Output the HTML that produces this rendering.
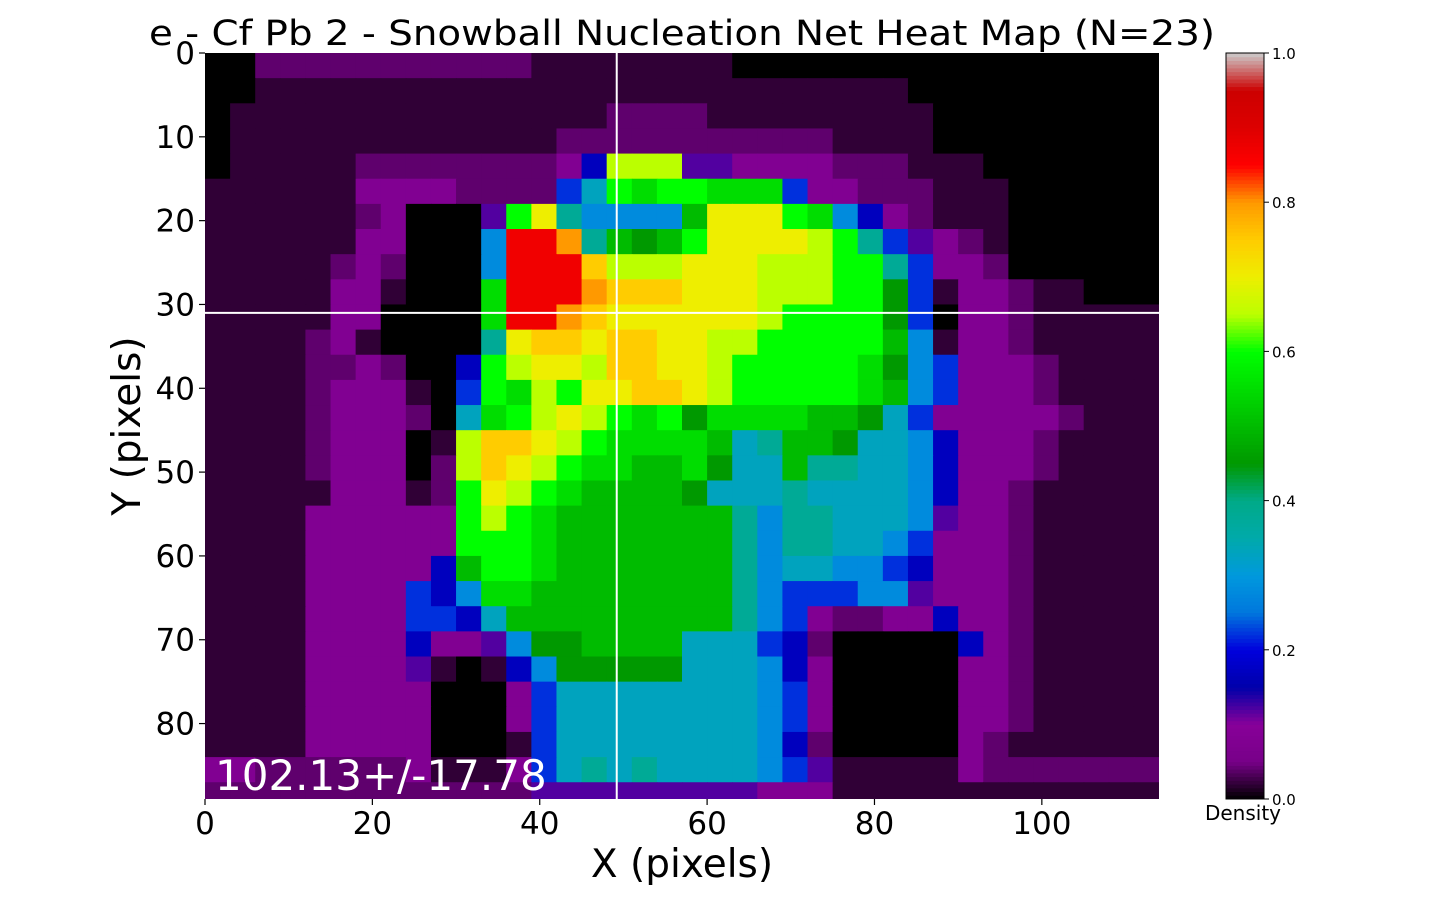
<!DOCTYPE html>
<html><head><meta charset="utf-8"><style>
html,body{margin:0;padding:0;background:#fff;}
svg{display:block;font-family:"DejaVu Sans","Liberation Sans",sans-serif;}
</style></head><body>
<svg id="chart" width="1437" height="900" viewBox="0 0 1437 900" xmlns="http://www.w3.org/2000/svg">
<text x="682" y="45" font-size="35" text-anchor="middle" textLength="1066" lengthAdjust="spacingAndGlyphs">e - Cf Pb 2 - Snowball Nucleation Net Heat Map (N=23)</text>
<g id="cells"></g>
<g id="overlay"></g>
<g id="axes"></g>
<g id="cbar"></g>
</svg>
<script>
// grid: 38 columns x 30 rows, each cell = 3x3 data pixels; rows are run-length encoded "code*count"
const blockSize = 3;
const codeChars = "0123456789ABCDEFGHIJ";
const codeValues = [0,0.02,0.04,0.08,0.12,0.17,0.22,0.28,0.33,0.38,0.45,0.5,0.55,0.6,0.65,0.7,0.75,0.8,0.87,0.92];
const gridRows = [
"0*2 2*11 1*8 0*17",
"0*2 1*26 0*10",
"0*1 1*15 2*4 1*9 0*9",
"0*1 1*13 2*11 1*4 0*9",
"0*1 1*5 2*8 3*1 5*1 E*3 4*2 3*4 2*3 1*3 0*7",
"1*6 3*4 2*4 6*1 8*1 D*1 C*1 D*1 D*1 C*3 6*1 3*2 2*3 1*3 0*6",
"1*6 2*1 3*1 0*3 4*1 D*1 F*1 9*1 7*1 7*3 B*1 F*3 D*1 C*1 7*1 5*1 3*1 2*1 1*3 0*6",
"1*6 3*2 0*3 7*1 I*2 H*1 9*1 B*1 A*1 B*1 D*1 F*4 E*1 D*1 9*1 6*1 4*1 3*1 2*1 1*1 0*6",
"1*5 2*1 3*1 2*1 0*3 7*1 I*3 G*1 E*3 F*3 E*3 D*2 9*1 6*1 3*2 2*1 0*6",
"1*5 3*2 1*1 0*3 C*1 I*3 H*1 G*3 F*3 E*3 D*2 A*1 6*1 1*1 3*2 2*1 1*2 0*3",
"1*5 3*2 0*4 C*1 I*2 H*1 G*1 F*6 E*1 D*4 A*1 6*1 0*1 3*2 2*1 1*5",
"1*4 2*1 3*1 1*1 0*4 9*1 F*1 G*2 F*1 G*2 F*2 E*2 D*5 B*1 7*1 1*1 3*2 2*1 1*5",
"1*4 2*2 3*1 2*1 0*2 5*1 D*1 E*1 F*2 E*1 G*2 F*2 E*1 D*5 C*1 A*1 7*1 6*1 3*3 2*1 1*4",
"1*4 2*1 3*3 1*1 0*1 6*1 D*1 C*1 E*1 D*1 F*2 G*2 F*1 E*1 D*5 C*1 B*1 7*1 6*1 3*3 2*1 1*4",
"1*4 2*1 3*3 2*1 0*1 8*1 C*1 D*1 E*1 F*1 E*1 D*1 C*1 D*1 A*1 C*4 B*2 A*1 8*1 6*1 3*5 2*1 1*3",
"1*4 2*1 3*3 0*1 1*1 E*1 G*2 F*1 E*1 D*1 C*4 B*1 8*1 9*1 B*2 A*1 8*2 7*1 5*1 3*3 2*1 1*4",
"1*4 2*1 3*3 0*1 2*1 E*1 G*1 F*1 E*1 D*1 C*2 B*2 C*1 A*1 8*2 B*1 9*2 8*2 7*1 5*1 3*3 2*1 1*4",
"1*5 3*3 1*1 2*1 D*1 F*1 E*1 D*1 C*1 B*4 A*1 8*3 9*1 8*4 7*1 5*1 3*2 2*1 1*5",
"1*4 3*6 D*1 E*1 D*1 C*1 B*7 9*1 7*1 9*2 8*3 7*1 4*1 3*2 2*1 1*5",
"1*4 3*6 D*3 C*1 B*7 9*1 7*1 9*2 8*2 7*1 6*1 3*3 2*1 1*5",
"1*4 3*5 5*1 B*1 D*2 C*1 B*7 9*1 7*1 8*2 7*2 6*1 5*1 3*3 2*1 1*5",
"1*4 3*4 6*1 5*1 7*1 C*2 B*8 9*1 7*1 6*3 7*2 4*1 3*3 2*1 1*5",
"1*4 3*4 6*2 5*1 8*1 B*9 9*1 7*1 6*1 3*1 2*2 3*2 5*1 3*2 2*1 1*5",
"1*4 3*4 5*1 3*2 4*1 7*1 A*2 B*4 8*3 6*1 5*1 2*1 0*5 5*1 3*1 2*1 1*5",
"1*4 3*4 4*1 1*1 0*1 1*1 5*1 7*1 A*5 8*3 7*1 5*1 3*1 0*5 3*2 2*1 1*5",
"1*4 3*5 0*3 3*1 6*1 8*8 7*1 6*1 3*1 0*5 3*2 2*1 1*5",
"1*4 3*5 0*3 3*1 6*1 8*8 7*1 6*1 3*1 0*5 3*2 2*1 1*5",
"1*4 3*5 0*3 1*1 6*1 8*8 7*1 5*1 2*1 0*5 3*1 2*1 1*6",
"3*2 2*6 3*1 1*3 3*1 6*1 8*1 9*1 8*1 9*1 8*4 7*1 6*1 4*1 1*5 3*1 2*7",
"2*13 4*9 3*3 1*13"
];
const xTicks=[0,20,40,60,80,100];
const yTicks=[0,10,20,30,40,50,60,70,80];
const cbTicks=[0,0.2,0.4,0.6,0.8,1.0];
const crossX=49.2, crossY=31;
</script>
<script>
const NC = 38, NR = 30;
const xMax = 114, yMax = 89;
const X0 = 205, X1 = 1159, Y0 = 53, Y1 = 799;
function xs(v){ return X0 + v*(X1-X0)/xMax; }
function ys(v){ return Y0 + v*(Y1-Y0)/yMax; }
function decode(s){ let out=""; s.trim().split(/\s+/).forEach(p=>{ const [ch,n]=p.split("*"); out+=ch.repeat(parseInt(n,10)); }); while(out.length<NC) out+="1"; return out.slice(0,NC); }
const nipyR=[[0,0],[.05,.4667],[.10,.5333],[.15,0],[.60,0],[.65,.7333],[.70,.9333],[.75,1],[.85,1],[.90,.8667],[.95,.8],[1,.8]];
const nipyG=[[0,0],[.20,0],[.25,.4667],[.30,.6],[.35,.6667],[.40,.6667],[.45,.6],[.50,.7333],[.55,.8667],[.60,1],[.65,1],[.70,.9333],[.75,.8],[.80,.6],[.85,0],[.95,0],[1,.8]];
const nipyB=[[0,0],[.05,.5333],[.10,.6],[.15,.6667],[.20,.8667],[.30,.8667],[.35,.6667],[.40,.5333],[.45,0],[.95,0],[1,.8]];
function interp(t,pts){ for(let i=1;i<pts.length;i++){ if(t<=pts[i][0]){ const a=pts[i-1],b=pts[i]; const f=(t-a[0])/(b[0]-a[0]); return a[1]+f*(b[1]-a[1]); } } return pts[pts.length-1][1]; }
function cmap(t){ t=Math.max(0,Math.min(1,t)); return "rgb("+Math.round(interp(t,nipyR)*255)+","+Math.round(interp(t,nipyG)*255)+","+Math.round(interp(t,nipyB)*255)+")"; }
const NS="http://www.w3.org/2000/svg";
function mk(tag,attrs,parent){ const e=document.createElementNS(NS,tag); for(const k in attrs) e.setAttribute(k,attrs[k]); parent.appendChild(e); return e; }
const cells=document.getElementById('cells');
mk('rect',{x:X0,y:Y0,width:X1-X0,height:Y1-Y0,fill:'#000'},cells);
const clip=mk('clipPath',{id:'pc'},document.getElementById('chart'));
mk('rect',{x:X0,y:Y0,width:X1-X0,height:Y1-Y0},clip);
cells.setAttribute('clip-path','url(#pc)');
for(let r=0;r<NR;r++){
  const row=decode(gridRows[r]||"1*38");
  for(let c=0;c<NC;c++){
    const idx=codeChars.indexOf(row[c]); const v=codeValues[Math.max(0,idx)];
    const el=mk('rect',{x:xs(c*blockSize).toFixed(2),y:ys(r*blockSize).toFixed(2),width:(xs(blockSize)-X0+0.6).toFixed(2),height:(ys(blockSize)-Y0+0.6).toFixed(2),fill:cmap(v)},cells);
    
    
  }
}
const ov=document.getElementById('overlay');
let l1=mk('line',{x1:xs(crossX),x2:xs(crossX),y1:Y0,y2:Y1,stroke:'#fff','stroke-width':2},ov);


let l2=mk('line',{x1:X0,x2:X1,y1:ys(crossY),y2:ys(crossY),stroke:'#fff','stroke-width':2},ov);


let ann=mk('text',{x:215,y:790,'font-size':42,fill:'#fff'},ov);
ann.textContent="102.13+/-17.78";


const ax=document.getElementById('axes');
for(const t of xTicks){
  mk('line',{x1:xs(t),x2:xs(t),y1:Y1,y2:Y1+6,stroke:'#000','stroke-width':1.2},ax);
  const tx=mk('text',{x:xs(t),y:834,'font-size':31,'text-anchor':'middle'},ax);
  tx.textContent=t;
  
  
}
for(const t of yTicks){
  mk('line',{x1:X0-6,x2:X0,y1:ys(t),y2:ys(t),stroke:'#000','stroke-width':1.2},ax);
  const ty=mk('text',{x:195,y:ys(t)+11,'font-size':31,'text-anchor':'end'},ax);
  ty.textContent=t;
  
  
}
const xl=mk('text',{x:682,y:877,'font-size':39,'text-anchor':'middle'},ax);
xl.textContent="X (pixels)";


const yl=mk('text',{x:0,y:0,'font-size':39,'text-anchor':'middle',transform:'translate(140,426) rotate(-90)'},ax);
yl.textContent="Y (pixels)";


const cb=document.getElementById('cbar');
const CX0=1226, CX1=1264;
const nSteps=200;
for(let i=0;i<nSteps;i++){
  const y=Y1-(i+1)*(Y1-Y0)/nSteps;
  mk('rect',{x:CX0,y:y.toFixed(2),width:CX1-CX0,height:((Y1-Y0)/nSteps+0.5).toFixed(2),fill:cmap((i+0.5)/nSteps)},cb);
}
mk('rect',{x:CX0,y:Y0,width:CX1-CX0,height:Y1-Y0,fill:'none',stroke:'#000','stroke-width':1},cb);
for(const t of cbTicks){
  const y=Y1-t*(Y1-Y0);
  mk('line',{x1:CX1,x2:CX1+5,y1:y,y2:y,stroke:'#000','stroke-width':1},cb);
  const tl=mk('text',{x:CX1+8,y:y+6,'font-size':15},cb);
  tl.textContent=t.toFixed(1);
  
  
}
const dl=mk('text',{x:1243,y:820,'font-size':20,'text-anchor':'middle'},cb);
dl.textContent="Density";


</script>
</body></html>
